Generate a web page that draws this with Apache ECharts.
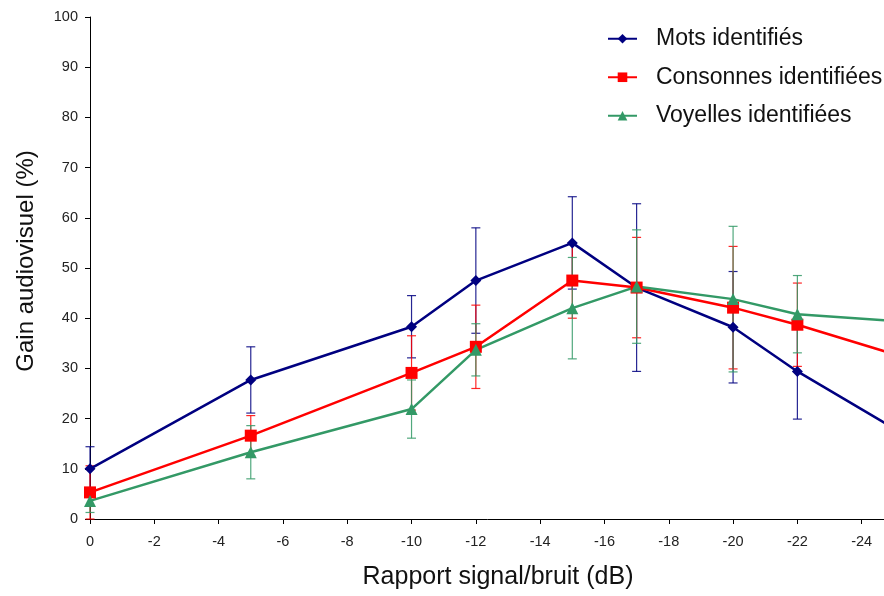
<!DOCTYPE html>
<html>
<head>
<meta charset="utf-8">
<script src="https://cdn.jsdelivr.net/npm/echarts@6/dist/echarts.min.js"></script>
<style>html,body{margin:0;padding:0;background:#fff;}#c{width:884px;height:596px;}</style>
</head>
<body>
<div id="c"></div>
<script>
// Signal/noise ratio (dB); the last point lies beyond the visible edge of the chart
const xValues = [0, -5, -10, -12, -15, -17, -20, -22, -26];
const mots = [10.0, 27.7, 38.3, 47.5, 55.0, 46.1, 38.2, 29.4, 14.3];
const motsErr = [4.4, 6.6, 6.2, 10.5, 9.2, 16.7, 11.1, 9.5, null];
const consonnes = [5.3, 16.6, 29.1, 34.3, 47.5, 46.1, 42.1, 38.7, 30.9];
const consonnesErr = [5.3, 4.0, 7.4, 8.3, 7.5, 10.0, 12.2, 8.3, null];
const voyelles = [3.6, 13.3, 21.9, 33.7, 42.0, 46.3, 43.8, 40.8, 39.0];
const voyellesErr = [2.3, 5.3, 5.8, 5.2, 10.1, 11.3, 14.5, 7.7, null];
const seriesNames = ['Mots identifiés', 'Consonnes identifiées', 'Voyelles identifiées'];
const xTickLabels = ['0','-2','-4','-6','-8','-10','-12','-14','-16','-18','-20','-22','-24','-26'];

const colors = ['#000080', '#FF0000', '#339966'];
const symbols = ['diamond', 'rect', 'triangle'];
const symbolSizes = [11, 12, 12];
const vals = [mots, consonnes, voyelles];
const errs = [motsErr, consonnesErr, voyellesErr];

const chart = echarts.init(document.getElementById('c'));
const font = '"Liberation Sans", Arial, sans-serif';

function errSeries(k) {
  const data = [];
  xValues.forEach((x, i) => { if (errs[k][i] != null) data.push([x, vals[k][i], errs[k][i]]); });
  return {
    type: 'custom',
    name: seriesNames[k] + ' err',
    z: 1,
    silent: true,
    data: data,
    renderItem: function (params, api) {
      const x = api.value(0), y = api.value(1), e = api.value(2);
      const t = api.coord([x, y + e]);
      const b = api.coord([x, Math.max(0, y - e)]);
      const hw = 4.5;
      const st = { stroke: colors[k], lineWidth: 1.2, opacity: 0.85 };
      return {
        type: 'group',
        children: [
          { type: 'line', shape: { x1: t[0], y1: t[1], x2: b[0], y2: b[1] }, style: st },
          { type: 'line', shape: { x1: t[0] - hw, y1: t[1], x2: t[0] + hw, y2: t[1] }, style: st },
          { type: 'line', shape: { x1: b[0] - hw, y1: b[1], x2: b[0] + hw, y2: b[1] }, style: st }
        ]
      };
    }
  };
}

function lineSeries(k) {
  return {
    type: 'line',
    name: seriesNames[k],
    z: 3,
    data: xValues.map((x, i) => [x, vals[k][i]]),
    symbol: symbols[k],
    symbolSize: symbolSizes[k],
    showAllSymbol: true,
    clip: true,
    lineStyle: { color: colors[k], width: 2.5 },
    itemStyle: { color: colors[k] },
    emphasis: { disabled: true }
  };
}

chart.setOption({
  animation: false,
  backgroundColor: '#ffffff',
  textStyle: { fontFamily: font },
  grid: { left: 90, top: 17, bottom: 77, right: -42, containLabel: false, outerBoundsMode: 'none' },
  legend: {
    orient: 'vertical',
    left: 602,
    top: 21,
    itemWidth: 29,
    itemHeight: 12,
    itemGap: 13,
    data: seriesNames,
    textStyle: { fontFamily: font, fontSize: 23, color: '#111', padding: [0, 0, 0, 14], lineHeight: 25.5 }
  },
  xAxis: {
    type: 'value',
    min: -26,
    max: 0,
    interval: 2,
    inverse: true,
    name: 'Rapport signal/bruit (dB)',
    nameLocation: 'middle',
    nameGap: 46,
    nameTextStyle: { fontFamily: font, fontSize: 25, color: '#111', padding: [0, 20, 0, 0] },
    axisLine: { lineStyle: { color: '#000', width: 1 } },
    axisTick: { show: true, inside: false, length: 5, lineStyle: { color: '#000' } },
    axisLabel: { fontFamily: font, fontSize: 14.5, color: '#222', margin: 15,
      formatter: function (v) { return xTickLabels[Math.round(-v / 2)]; } },
    splitLine: { show: false }
  },
  yAxis: {
    type: 'value',
    min: 0,
    max: 100,
    interval: 10,
    name: 'Gain audiovisuel (%)',
    nameLocation: 'middle',
    nameGap: 52,
    nameTextStyle: { fontFamily: font, fontSize: 24, color: '#111', padding: [0, 0, 0, 14] },
    axisLine: { show: true, lineStyle: { color: '#000', width: 1 } },
    axisTick: { show: true, inside: false, length: 5, lineStyle: { color: '#000' } },
    axisLabel: { fontFamily: font, fontSize: 14.5, color: '#222', margin: 12 },
    splitLine: { show: false }
  },
  series: [errSeries(0), errSeries(1), errSeries(2), lineSeries(0), lineSeries(1), lineSeries(2)]
});
</script>
</body>
</html>
